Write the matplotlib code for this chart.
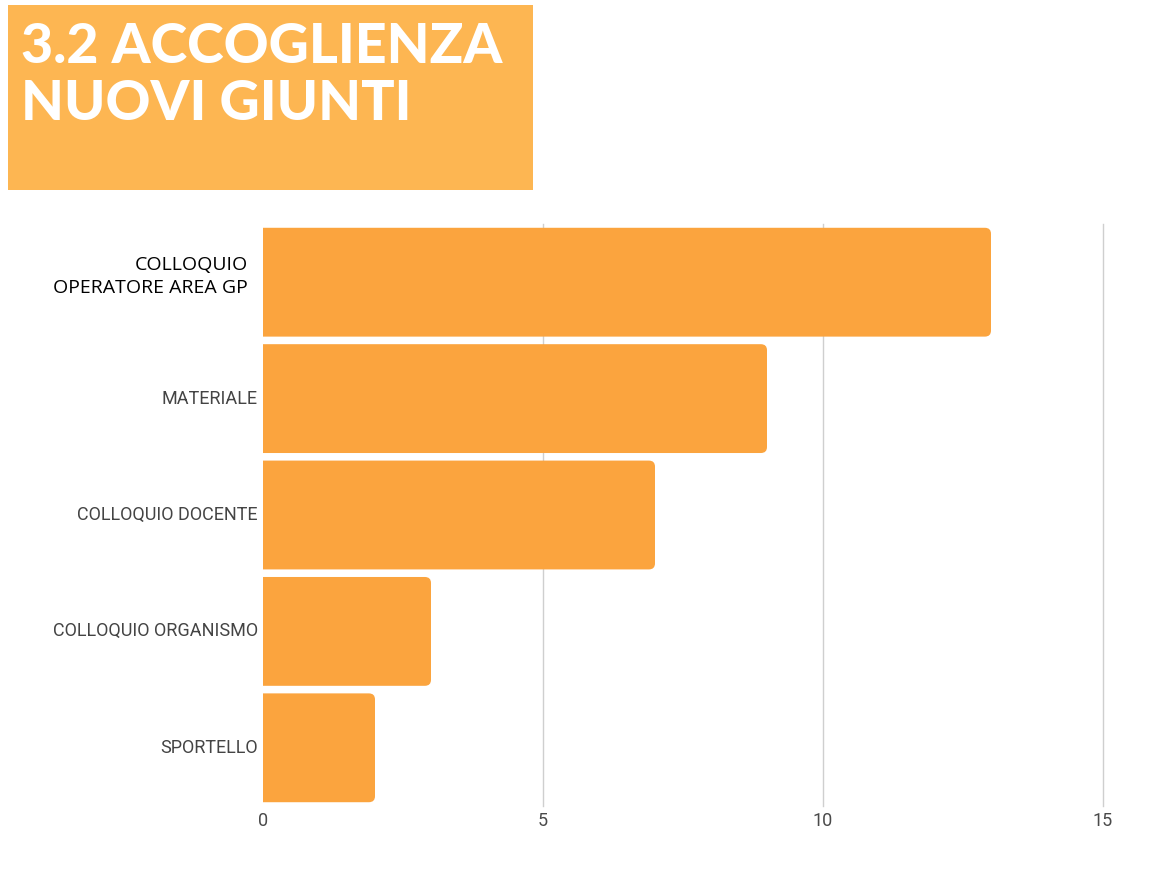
import matplotlib
matplotlib.use("Agg")
from matplotlib import pyplot as plt
from matplotlib.patches import FancyBboxPatch, Rectangle

categories = ["COLLOQUIO\nOPERATORE AREA GP", "MATERIALE", "COLLOQUIO DOCENTE",
              "COLLOQUIO ORGANISMO", "SPORTELLO"]
values = [13, 9, 7, 3, 2]
xticks = [0, 5, 10, 15]

bar_color = "#fba43e"

fig = plt.figure(figsize=(11.62, 8.75), dpi=100)
fig.patch.set_facecolor("white")

# title box
fig.patches.append(Rectangle((8 / 1162, 1 - 190 / 875), 525 / 1162, 185 / 875,
                             transform=fig.transFigure, facecolor="#fdb652",
                             edgecolor="none", zorder=0))
fig.text(21 / 1162, 1 - 47 / 875, "3.2 ACCOGLIENZA", family="Lato", fontweight="black",
         fontsize=40, color="white", va="center", ha="left")
fig.text(21 / 1162, 1 - 104 / 875, "NUOVI GIUNTI", family="Lato", fontweight="black",
         fontsize=40, color="white", va="center", ha="left")

ax = fig.add_axes([263 / 1162, 1 - 806 / 875, (1103 - 263) / 1162, (806 - 224) / 875])
y = list(range(len(categories)))
bars = ax.barh(y, values, height=0.935, color=bar_color)
ax.set_ylim(len(categories) - 0.5, -0.5)
ax.set_xlim(0, 15)

# rounded right ends (left end pushed outside the axes and clipped)
r = 0.11
asp = 0.47
for b in bars:
    x0, y0, w, h = b.get_x(), b.get_y(), b.get_width(), b.get_height()
    b.set_visible(False)
    ax.add_patch(FancyBboxPatch((x0 - 0.5, y0), w + 0.5, h,
                                boxstyle=f"round,pad=0,rounding_size={r}", mutation_aspect=asp,
                                facecolor=bar_color, edgecolor="none", zorder=2))

ax.set_xticks(xticks)
ax.set_xticklabels([str(t) for t in xticks], family="Roboto", fontsize=13, color="#4a4a4a")
ax.set_yticks(y)
ax.set_yticklabels(["" for c in categories])
ax.tick_params(axis="both", length=0)
ax.tick_params(axis="x", pad=4)
for i, c in enumerate(categories):
    if i == 0:
        ax.text(-0.27, i - 0.05, c, ha="right", va="center", family="Open Sans",
                fontsize=14, color="black", linespacing=1.4)
    else:
        ax.text(-0.09, i, c, ha="right", va="center", family="Roboto",
                fontsize=13, color="#444444")

for t in xticks[1:]:
    ax.axvline(t, color="#cfcfcf", linewidth=1, zorder=1, clip_on=False)
for s in ax.spines.values():
    s.set_visible(False)

fig.savefig("out.png", dpi=100, facecolor="white")
